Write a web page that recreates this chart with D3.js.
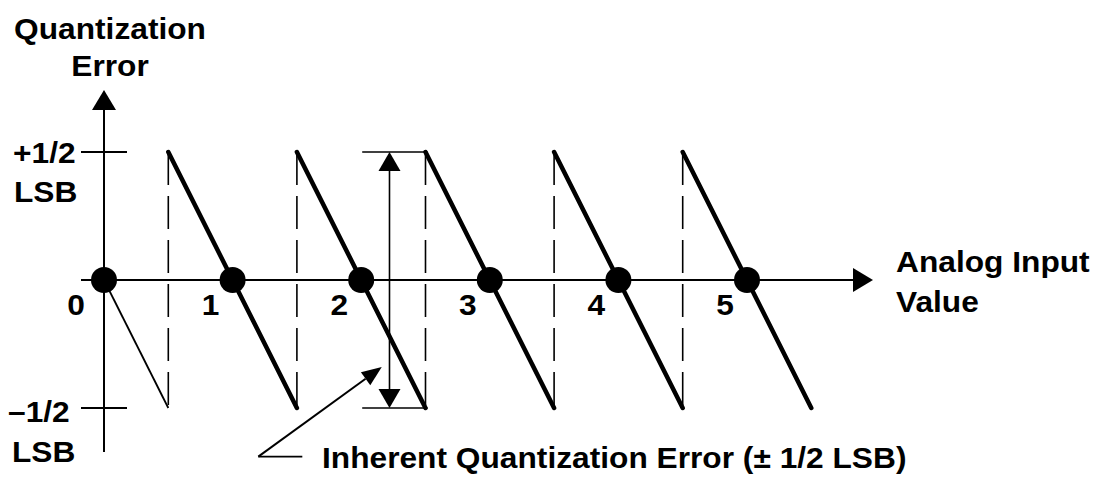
<!DOCTYPE html>
<html>
<head>
<meta charset="utf-8">
<script src="https://cdn.jsdelivr.net/npm/d3@7"></script>
<style>
    body { margin: 0; background: white; }
    text { font-family: "Liberation Sans", Arial, sans-serif; font-weight: bold; fill: black; }
</style>
</head>
<body>
<div id="canvas"></div>
<script>
"use strict"

/* drawing size */
let svgWidth = 1098;
let svgHeight = 477;

/* Data: analog input value (in LSB) vs quantization error (in LSB) */
let codeCenters = [0, 1, 2, 3, 4, 5];               // points where the error is zero
let codeLabels = ["0", "1", "2", "3", "4", "5"];
let stepEdges = [0.5, 1.5, 2.5, 3.5, 4.5];          // transitions, error jumps to +1/2
let firstRamp = [[0, 0], [0.5, -0.5]];              // thin start segment
let errorLimits = [0.5, -0.5];
let errorLabels = [["+1/2", "LSB"], ["\u20131/2", "LSB"]];
let spanAt = 2.22;                                   // where the +-1/2 LSB span is drawn
let noteFrom = [1.2, -0.69];
let noteTo = [2.16, -0.34];
let noteText = "Inherent Quantization Error (\u00b1 1/2 LSB)";

let svg = d3.select("#canvas")
    .append("svg")
    .attr("width", svgWidth)
    .attr("height", svgHeight);

let xScale = d3.scaleLinear()
    .domain([0, 5])
    .range([104, 747]);

let yScale = d3.scaleLinear()
    .domain([-0.5, 0.5])
    .range([408, 152]);

let fontSize = 29.5;
let stretch = 1.075;   // the source font is a bit wider than Liberation Sans

/* text helper, slightly stretched horizontally */
function label(x, y, txt, anchor) {
    return svg.append("text")
        .attr("transform", "translate(" + x + "," + y + ") scale(" + stretch + ",1)")
        .attr("text-anchor", anchor || "start")
        .style("font-size", fontSize + "px")
        .text(txt);
}

/* arrow head helper: tip at (x, y), pointing dir */
function arrowHead(x, y, dir, len, half) {
    let p;
    if (dir == "up") p = [[x, y], [x - half, y + len], [x + half, y + len]];
    if (dir == "down") p = [[x, y], [x - half, y - len], [x + half, y - len]];
    if (dir == "right") p = [[x, y], [x - len, y - half], [x - len, y + half]];
    svg.append("path")
        .attr("d", "M" + p.join("L") + "Z")
        .attr("fill", "black");
}

/* dashed lines at each code transition */
svg.selectAll(".step")
    .data(stepEdges)
    .join("line")
    .attr("class", "step")
    .attr("x1", d => xScale(d))
    .attr("x2", d => xScale(d))
    .attr("y1", yScale(0.5))
    .attr("y2", yScale(-0.5))
    .attr("stroke", "black")
    .attr("stroke-width", 1.6)
    .attr("stroke-dasharray", "33 11");

/* axes */
svg.append("line")
    .attr("x1", xScale(0) - 23)
    .attr("x2", 858)
    .attr("y1", yScale(0))
    .attr("y2", yScale(0))
    .attr("stroke", "black")
    .attr("stroke-width", 2);
arrowHead(873, yScale(0), "right", 20, 12);

svg.append("line")
    .attr("x1", xScale(0))
    .attr("x2", xScale(0))
    .attr("y1", 452)
    .attr("y2", 106)
    .attr("stroke", "black")
    .attr("stroke-width", 2);
arrowHead(xScale(0), 90, "up", 20, 12);

/* +-1/2 LSB ticks and labels */
for (let i = 0; i < errorLimits.length; i++) {
    svg.append("line")
        .attr("x1", xScale(0) - 23)
        .attr("x2", xScale(0) + 23)
        .attr("y1", yScale(errorLimits[i]))
        .attr("y2", yScale(errorLimits[i]))
        .attr("stroke", "black")
        .attr("stroke-width", 2);
}
label(13, 163, errorLabels[0][0]);
label(14, 202, errorLabels[0][1]);
label(8, 422, errorLabels[1][0]);
label(12, 462, errorLabels[1][1]);

/* axis titles */
label(110, 39, "Quantization", "middle");
label(110, 76, "Error", "middle");
label(896, 272, "Analog Input");
label(896, 312, "Value");

/* thin first ramp */
svg.append("line")
    .attr("x1", xScale(firstRamp[0][0]))
    .attr("y1", yScale(firstRamp[0][1]))
    .attr("x2", xScale(firstRamp[1][0]))
    .attr("y2", yScale(firstRamp[1][1]))
    .attr("stroke", "black")
    .attr("stroke-width", 1.8);

/* thick sawtooth ramps */
svg.selectAll(".ramp")
    .data(stepEdges)
    .join("line")
    .attr("class", "ramp")
    .attr("x1", d => xScale(d))
    .attr("y1", yScale(0.5))
    .attr("x2", d => xScale(d + 1))
    .attr("y2", yScale(-0.5))
    .attr("stroke", "black")
    .attr("stroke-width", 4.5)
    .attr("stroke-linecap", "round");

/* zero error points */
svg.selectAll(".dot")
    .data(codeCenters)
    .join("circle")
    .attr("class", "dot")
    .attr("cx", d => xScale(d))
    .attr("cy", yScale(0))
    .attr("r", 13)
    .attr("fill", "black");

/* code labels */
for (let i = 0; i < codeLabels.length; i++) {
    label(xScale(codeCenters[i]) - (i == 0 ? 28 : 22), 315, codeLabels[i], "middle");
}

/* +-1/2 LSB span with extension lines */
for (let i = 0; i < errorLimits.length; i++) {
    svg.append("line")
        .attr("x1", xScale(2) + 1)
        .attr("x2", xScale(2.5) + 2)
        .attr("y1", yScale(errorLimits[i]))
        .attr("y2", yScale(errorLimits[i]))
        .attr("stroke", "black")
        .attr("stroke-width", 1.6);
}
svg.append("line")
    .attr("x1", xScale(spanAt))
    .attr("x2", xScale(spanAt))
    .attr("y1", yScale(0.5) + 15)
    .attr("y2", yScale(-0.5) - 15)
    .attr("stroke", "black")
    .attr("stroke-width", 1.6);
arrowHead(xScale(spanAt), yScale(0.5), "up", 19, 11);
arrowHead(xScale(spanAt), yScale(-0.5), "down", 19, 11);

/* note with leader arrow */
let nx = xScale(noteFrom[0]), ny = yScale(noteFrom[1]);
let tx = xScale(noteTo[0]), ty = yScale(noteTo[1]);
let ang = Math.atan2(ty - ny, tx - nx);
let headLen = 20, headHalf = 8;
let bx = tx - headLen * Math.cos(ang), by = ty - headLen * Math.sin(ang);
svg.append("line")
    .attr("x1", nx + 44).attr("x2", nx)
    .attr("y1", ny).attr("y2", ny)
    .attr("stroke", "black").attr("stroke-width", 1.8);
svg.append("line")
    .attr("x1", nx).attr("y1", ny)
    .attr("x2", bx).attr("y2", by)
    .attr("stroke", "black").attr("stroke-width", 2);
svg.append("path")
    .attr("d", "M" + tx + "," + ty +
        "L" + (bx + headHalf * Math.sin(ang)) + "," + (by - headHalf * Math.cos(ang)) +
        "L" + (bx - headHalf * Math.sin(ang)) + "," + (by + headHalf * Math.cos(ang)) + "Z")
    .attr("fill", "black");

label(322, 468, noteText);
</script>
</body>
</html>
